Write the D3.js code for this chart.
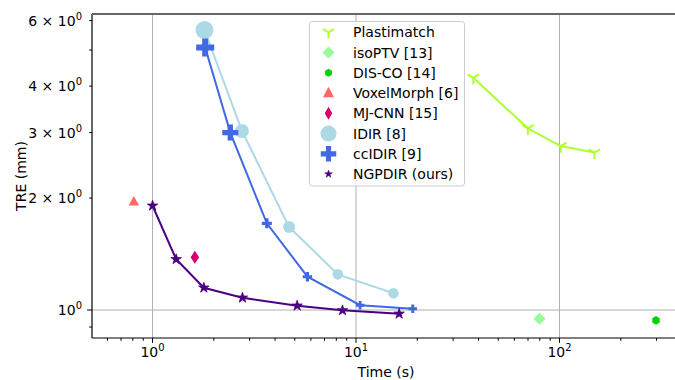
<!DOCTYPE html>
<html>
<head>
<meta charset="utf-8">
<script src="https://cdn.jsdelivr.net/npm/d3@7"></script>
<style>
  html, body { margin: 0; padding: 0; background: #fff; }
  svg { display: block; font-family: "DejaVu Sans", sans-serif; }
</style>
</head>
<body>
<svg id="chart" width="675" height="380"></svg>
<script>
// ---------- data ----------
const seriesNames = ["Plastimatch", "isoPTV [13]", "DIS-CO [14]", "VoxelMorph [6]", "MJ-CNN [15]", "IDIR [8]", "ccIDIR [9]", "NGPDIR (ours)"];

const plastimatchTime = [37.7, 69.9, 101.5, 148.4];
const plastimatchTRE  = [4.21, 3.08, 2.76, 2.65];

const isoPTVTime = [79.7];
const isoPTVTRE  = [0.947];

const discoTime = [298];
const discoTRE  = [0.938];

const voxelmorphTime = [0.809];
const voxelmorphTRE  = [1.955];

const mjcnnTime = [1.614];
const mjcnnTRE  = [1.386];

const idirTime = [1.80, 2.75, 4.69, 8.14, 15.27];
const idirTRE  = [5.66, 3.03, 1.671, 1.247, 1.109];
const idirMarkerScale = [9, 7, 6, 5.3, 5.3];

const ccidirTime = [1.814, 2.41, 3.645, 5.77, 10.47, 19.0];
const ccidirTRE  = [5.08, 3.00, 1.71, 1.229, 1.03, 1.008];
const ccidirMarkerScale = [18, 16, 10, 9.5, 8.5, 8.5];

const ngpdirTime = [1.0, 1.306, 1.787, 2.766, 5.136, 8.58, 16.29];
const ngpdirTRE  = [1.907, 1.369, 1.148, 1.079, 1.027, 0.998, 0.977];

const xMajorTicks = [1, 10, 100];
const xTickExponents = ["0", "1", "2"];
const yLabelTicks = [1, 2, 3, 4, 6];
const yTickLabels = [["10", "0"], ["2 × 10", "0"], ["3 × 10", "0"], ["4 × 10", "0"], ["6 × 10", "0"]];

// ---------- layout ----------
const svg = d3.select("#chart");
const pLeft = 92, pRight = 680, pTop = 14, pBottom = 338;
const x = d3.scaleLog().domain([0.504, 391]).range([pLeft, pRight]);
const y = d3.scaleLog().domain([0.841, 6.25]).range([pBottom, pTop]);

const colors = {
  plast: "#adff2f", iso: "#98fb98", disco: "#00d200", vox: "#ff6666",
  mj: "#d4006a", idir: "#add8e6", ccidir: "#4169e1", ngp: "#4b0082"
};

// ---------- grid ----------
const grid = svg.append("g");
grid.selectAll("line.vx").data(xMajorTicks).join("line")
  .attr("x1", d => x(d)).attr("x2", d => x(d))
  .attr("y1", pTop).attr("y2", pBottom)
  .attr("stroke", "#b0b0b0").attr("stroke-width", 1);
grid.append("line")
  .attr("x1", pLeft).attr("x2", pRight)
  .attr("y1", y(1)).attr("y2", y(1))
  .attr("stroke", "#b0b0b0").attr("stroke-width", 1);

// ---------- axes ----------
const xMinor = [];
[0.1, 1, 10, 100].forEach(dec => { for (let k = 2; k <= 9; k++) { const v = dec * k; if (v > 0.504 && v < 391) xMinor.push(v); } });
const yMinor = [0.9, 2, 3, 4, 5, 6];

const ax = svg.append("g").attr("stroke", "#000").attr("stroke-width", 1);
ax.selectAll("line.xmaj").data(xMajorTicks).join("line")
  .attr("x1", d => x(d)).attr("x2", d => x(d)).attr("y1", pBottom).attr("y2", pBottom + 4.9);
ax.selectAll("line.xmin").data(xMinor).join("line")
  .attr("x1", d => x(d)).attr("x2", d => x(d)).attr("y1", pBottom).attr("y2", pBottom + 2.8);
ax.append("line").attr("x1", pLeft - 4.9).attr("x2", pLeft).attr("y1", y(1)).attr("y2", y(1));
ax.selectAll("line.ymin").data(yMinor).join("line")
  .attr("x1", pLeft - 2.8).attr("x2", pLeft).attr("y1", d => y(d)).attr("y2", d => y(d));

// x tick labels
const xl = svg.append("g").attr("font-size", 14).attr("fill", "#000");
xMajorTicks.forEach((t, i) => {
  const txt = xl.append("text").attr("x", x(t)).attr("y", 357).attr("text-anchor", "middle");
  txt.append("tspan").text("10");
  txt.append("tspan").attr("font-size", 10).attr("dy", -6).text(xTickExponents[i]);
});
// y tick labels
yLabelTicks.forEach((t, i) => {
  const txt = xl.append("text").attr("x", 82).attr("y", y(t) + 5).attr("text-anchor", "end");
  txt.append("tspan").text(yTickLabels[i][0]);
  txt.append("tspan").attr("font-size", 10).attr("dy", -6).text(yTickLabels[i][1]);
});

// axis titles
svg.append("text").attr("x", 386).attr("y", 377).attr("text-anchor", "middle")
  .attr("font-size", 14).text("Time (s)");
svg.append("text").attr("transform", "translate(26,176) rotate(-90)").attr("text-anchor", "middle")
  .attr("font-size", 14).text("TRE (mm)");

// spines
svg.append("line").attr("x1", pLeft).attr("x2", pRight).attr("y1", pBottom).attr("y2", pBottom)
  .attr("stroke", "#000").attr("stroke-width", 1.2);
svg.append("line").attr("x1", pLeft).attr("x2", pLeft).attr("y1", pTop).attr("y2", pBottom)
  .attr("stroke", "#000").attr("stroke-width", 1.2);
svg.append("line").attr("x1", pLeft).attr("x2", pRight).attr("y1", pTop).attr("y2", pTop)
  .attr("stroke", "#666").attr("stroke-width", 1.8);

// ---------- marker paths ----------
function triDown(r) {
  return `M0,0L0,${r}M0,0L${-0.866 * r},${-0.5 * r}M0,0L${0.866 * r},${-0.5 * r}`;
}
function hexagon(r) {
  const pts = d3.range(6).map(k => { const a = k * Math.PI / 3 + Math.PI / 2; return [r * Math.cos(a), r * Math.sin(a)]; });
  return "M" + pts.map(p => p.join(",")).join("L") + "Z";
}
function diamond(w, h) {
  return `M0,${-h / 2}L${w / 2},0L0,${h / 2}L${-w / 2},0Z`;
}
function triangleUp(w, h) {
  return `M0,${-h * 0.6}L${w / 2},${h * 0.4}L${-w / 2},${h * 0.4}Z`;
}
function cross(w) { return d3.symbol(d3.symbolCross, 5 * w * w / 9)(); }
function star(R) { return d3.symbol(d3.symbolStar, R * R / 0.8908130915292852)(); }
function circle(r) { return d3.symbol(d3.symbolCircle, Math.PI * r * r)(); }

const line = d3.line().x(d => x(d[0])).y(d => y(d[1]));
const zip = (a, b) => a.map((v, i) => [v, b[i]]);
const plot = svg.append("g");

// Plastimatch
const plastPts = zip(plastimatchTime, plastimatchTRE);
plot.append("path").attr("d", line(plastPts)).attr("fill", "none").attr("stroke", colors.plast).attr("stroke-width", 2);
plot.selectAll("path.pm").data(plastPts).join("path")
  .attr("transform", d => `translate(${x(d[0])},${y(d[1])})`)
  .attr("d", triDown(6.7)).attr("fill", "none").attr("stroke", colors.plast).attr("stroke-width", 2);

// isoPTV
plot.selectAll("path.iso").data(zip(isoPTVTime, isoPTVTRE)).join("path")
  .attr("transform", d => `translate(${x(d[0])},${y(d[1])})`)
  .attr("d", diamond(12, 12)).attr("fill", colors.iso);

// DIS-CO
plot.selectAll("path.disco").data(zip(discoTime, discoTRE)).join("path")
  .attr("transform", d => `translate(${x(d[0])},${y(d[1])})`)
  .attr("d", hexagon(4.3)).attr("fill", colors.disco);

// VoxelMorph
plot.selectAll("path.vox").data(zip(voxelmorphTime, voxelmorphTRE)).join("path")
  .attr("transform", d => `translate(${x(d[0])},${y(d[1])})`)
  .attr("d", triangleUp(10.5, 9.5)).attr("fill", colors.vox);

// MJ-CNN
plot.selectAll("path.mj").data(zip(mjcnnTime, mjcnnTRE)).join("path")
  .attr("transform", d => `translate(${x(d[0])},${y(d[1])})`)
  .attr("d", diamond(8.5, 13)).attr("fill", colors.mj);

// IDIR
const idirPts = zip(idirTime, idirTRE);
plot.append("path").attr("d", line(idirPts)).attr("fill", "none").attr("stroke", colors.idir).attr("stroke-width", 2);
plot.selectAll("path.idir").data(idirPts).join("path")
  .attr("transform", d => `translate(${x(d[0])},${y(d[1])})`)
  .attr("d", (d, i) => circle(idirMarkerScale[i])).attr("fill", colors.idir);

// ccIDIR
const ccPts = zip(ccidirTime, ccidirTRE);
plot.append("path").attr("d", line(ccPts)).attr("fill", "none").attr("stroke", colors.ccidir).attr("stroke-width", 2);
plot.selectAll("path.cc").data(ccPts).join("path")
  .attr("transform", d => `translate(${x(d[0])},${y(d[1])})`)
  .attr("d", (d, i) => cross(ccidirMarkerScale[i])).attr("fill", colors.ccidir);

// NGPDIR
const ngpPts = zip(ngpdirTime, ngpdirTRE);
plot.append("path").attr("d", line(ngpPts)).attr("fill", "none").attr("stroke", colors.ngp).attr("stroke-width", 2);
plot.selectAll("path.ngp").data(ngpPts).join("path")
  .attr("transform", d => `translate(${x(d[0])},${y(d[1])})`)
  .attr("d", star(5.5)).attr("fill", colors.ngp).attr("stroke", colors.ngp).attr("stroke-width", 0.8);

// ---------- legend ----------
const lg = svg.append("g");
lg.append("rect").attr("x", 309.5).attr("y", 21.5).attr("width", 155).attr("height", 164.5)
  .attr("rx", 3).attr("fill", "#fff").attr("fill-opacity", 0.8).attr("stroke", "#cccccc").attr("stroke-width", 1);
const legendMarkers = [
  { d: triDown(6.2), fill: "none", stroke: colors.plast, sw: 2 },
  { d: diamond(12, 12), fill: colors.iso },
  { d: hexagon(4), fill: colors.disco },
  { d: triangleUp(11, 10.5), fill: colors.vox },
  { d: diamond(7.5, 13), fill: colors.mj },
  { d: circle(8), fill: colors.idir },
  { d: cross(15.5), fill: colors.ccidir },
  { d: star(4), fill: colors.ngp, stroke: colors.ngp, sw: 0.6 }
];
seriesNames.forEach((name, i) => {
  const cy = 32.3 + i * 20.25;
  const m = legendMarkers[i];
  lg.append("path").attr("transform", `translate(328.5,${cy})`).attr("d", m.d)
    .attr("fill", m.fill).attr("stroke", m.stroke || "none").attr("stroke-width", m.sw || 0);
  lg.append("text").attr("x", 353).attr("y", cy + 5).attr("font-size", 14).text(name);
});
</script>
</body>
</html>
